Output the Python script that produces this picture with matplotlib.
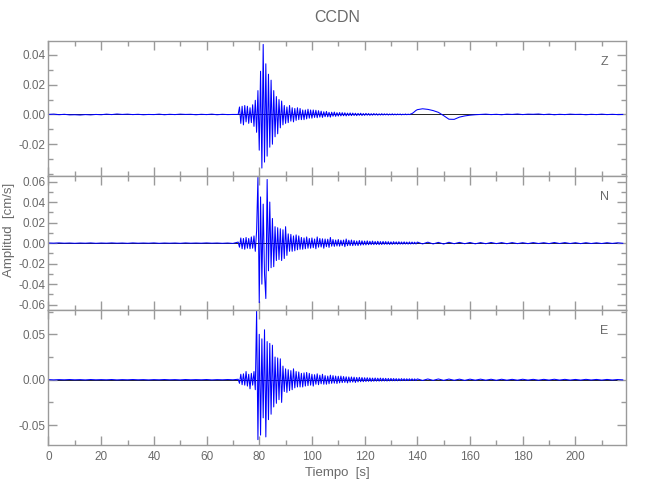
import numpy as np
import matplotlib
matplotlib.use("Agg")
import matplotlib.pyplot as plt
from matplotlib.ticker import FixedLocator, FormatStrFormatter

plt.rcParams['font.family'] = ['Liberation Sans', 'DejaVu Sans']

title = "CCDN"
components = ["Z", "N", "E"]
xlabel = "Tiempo  [s]"
ylabel = "Amplitud  [cm/s]"

# Trace samples, in units of 1e-4 cm/s.
# Segments: pre-event (0-70 s, every 2 s), main arrivals (72-99.5 s, every 0.5 s),
# coda (100-139.5 s, every 0.5 s), late part (140-218 s, every 2 s).
z_pre = [0, 2, -2, 1, -3, -2, -4, -1, -3, 0, -2, 2, -1, 3, 0, 2, -1, 1, -2, 0, -1, 2, -2, 1,
         -1, 2, 0, 1, -2, 1, -1, 2, -2, 1, -1, 0]
z_act = [0, 50, -60, 55, -70, 60, -50, 55, -60, 45, -55, 65, -80, 95, -120, 160, -240, 290,
         -360, 470, -320, 340, -280, 270, -220, 230, -200, 160, -150, 120, -130, 100, -90, 90,
         -70, 60, -60, 50, -55, 60, -45, 45, -50, 40, -40, 45, -35, 40, -35, 30, -35, 30, -30,
         35, -25, 30]
z_coda = [-25, 30, -20, 28, -22, 25, -18, 22, -20, 18,
          -15, 20, -16, 14, -18, 15, -12, 16, -13, 12,
          -11, 13, -10, 12, -9, 11, -10, 9, -8, 10,
          -8, 9, -7, 8, -8, 7, -6, 8, -7, 6,
          -6, 7, -5, 6, -6, 5, -5, 6, -4, 5,
          -5, 4, -4, 5, -4, 4, -3, 4, -4, 3,
          -3, 4, -3, 3, -3, 3, -2, 3, -3, 2,
          -2, 3, -2, 2, -1, 3, 6, 12, 20, 27]
z_late = [32, 38, 34, 26, 14, -8, -32, -33, -18, -10, -5, -2, 0, 2, -1, 1, -2, 2, 0, 3, -1, 2,
          1, 3, -1, 2, -2, 1, -1, 2, 0, 1, -2, 1, -1, 2, -1, 1, -1, 0]

n_pre = [1, -1, 2, -1, 1, -2, 1, -1, 2, -2, 1, -1, 2, -1, 1, -2, 2, -1, 1, -1, 2, -2, 1, -1,
         1, -2, 2, -1, 1, -1, 2, -1, 1, -2, 1, -3]
n_act = [10, -40, 50, -55, 45, -60, 55, -50, 45, -55, 60, -50, 70, -80, 120, 640, -580, 450,
         -400, 380, -300, -540, 620, -270, 400, -240, 240, -230, 160, -170, 150, -160, 140,
         -170, 130, -150, 160, -120, 90, -80, 85, -80, 70, -75, 80, -65, 70, -60, 55, -60, 50,
         -55, 60, -50, 45, -50]
n_coda = [50, -45, 40, -55, 60, -40, 45, -38, 42, -50,
          40, -35, 38, -42, 55, -30, 35, -32, 30, -28,
          35, -30, 28, -25, 30, -35, 40, -25, 28, -24,
          30, -25, 25, -22, 20, -24, 25, -20, 22, -18,
          20, -18, 22, -16, 18, -15, 20, -15, 16, -14,
          18, -15, 15, -14, 16, -12, 15, -12, 14, -13,
          12, -12, 14, -10, 12, -11, 13, -10, 11, -10,
          12, -9, 10, -10, 11, -9, 10, -8, 9, -9]
n_late = [10, -8, 9, -8, 7, -9, 8, -6, 7, -6, 6, -7, 5, -6, 6, -5, 5, -6, 5, -5, 4, -5, 5, -4,
          4, -5, 6, -4, 5, -4, 4, -5, 4, -4, 3, -4, 4, -3, 3, -2]

e_pre = [1, -2, 1, -1, 2, -1, 1, -2, 2, -1, 1, -1, 2, -2, 1, -1, 2, -1, 1, -2, 1, -1, 2, -1,
         1, -2, 2, -1, 1, -1, 2, -2, 1, -1, 2, -1]
e_act = [5, -40, 60, -55, 65, -60, 90, -70, 60, -100, 70, -60, 90, -110, 760, -660, 500, -610,
         450, -420, 550, -630, 420, -440, 400, -380, 380, -300, 250, -260, 240, -220, 230, -250,
         150, -130, 120, -140, 110, -120, 100, -110, 120, -90, 90, -80, 85, -80, 70, -80, 75,
         -70, 80, -65, 70, -60]
e_coda = [60, -70, 55, -50, 65, -55, 50, -45, 60, -50,
          45, -50, 40, -45, 50, -40, 45, -38, 40, -42,
          38, -35, 40, -32, 35, -30, 32, -35, 30, -28,
          30, -26, 28, -30, 25, -24, 26, -22, 24, -22,
          22, -20, 22, -18, 20, -19, 18, -17, 19, -16,
          17, -16, 18, -15, 16, -14, 15, -15, 14, -13,
          14, -12, 13, -12, 12, -12, 11, -11, 12, -10,
          11, -10, 10, -10, 10, -9, 10, -9, 9, -9]
e_late = [9, -8, 8, -7, 8, -7, 7, -6, 6, -7, 6, -5, 6, -5, 5, -6, 5, -5, 4, -5, 5, -4, 4, -5,
          4, -4, 5, -4, 4, -4, 3, -4, 4, -3, 3, -4, 3, -3, 2, -2]

traces = [(z_pre, z_act, z_coda, z_late),
          (n_pre, n_act, n_coda, n_late),
          (e_pre, e_act, e_coda, e_late)]

ylims = [(-0.0411, 0.0493), (-0.0655, 0.0657), (-0.0719, 0.0764)]
ymajor = [[-0.02, 0.0, 0.02, 0.04],
          [-0.06, -0.04, -0.02, 0.0, 0.02, 0.04, 0.06],
          [-0.05, 0.0, 0.05]]
yminor = [[-0.04, -0.03, -0.01, 0.01, 0.03],
          [-0.05, -0.03, -0.01, 0.01, 0.03, 0.05],
          [-0.025, 0.025, 0.075]]
xmax = 219.2


def build(pre, act, coda, late):
    t = np.concatenate([0 + 2.0 * np.arange(len(pre)),
                        72 + 0.5 * np.arange(len(act)),
                        100 + 0.5 * np.arange(len(coda)),
                        140 + 2.0 * np.arange(len(late))])
    v = np.concatenate([pre, act, coda, late]) * 1e-4
    return t, v


gray = '#9a9a9a'
tcol = '#6a6a6a'
fig = plt.figure(figsize=(6.5, 5), dpi=100)
gs = fig.add_gridspec(3, 1, left=0.0746, right=0.963, top=0.918, bottom=0.11, hspace=0)
axes = [fig.add_subplot(gs[i]) for i in range(3)]

for i, ax in enumerate(axes):
    t, v = build(*traces[i])
    ax.axhline(0, color='black', lw=0.6, zorder=1)
    ax.plot(t, v, color='#0000ff', lw=0.75, zorder=2, clip_on=False)
    ax.set_xlim(0, xmax)
    ax.set_ylim(*ylims[i])
    ax.yaxis.set_major_locator(FixedLocator(ymajor[i]))
    ax.yaxis.set_minor_locator(FixedLocator(yminor[i]))
    ax.yaxis.set_major_formatter(FormatStrFormatter('%.2f'))
    ax.xaxis.set_major_locator(FixedLocator(np.arange(0, 220, 20)))
    ax.xaxis.set_minor_locator(FixedLocator(np.arange(10, 220, 20)))
    ax.tick_params(which='both', direction='in', top=True, right=True, color=gray,
                   labelcolor=tcol, labelsize=8.5, width=1)
    ax.tick_params(which='major', length=6.5, pad=2)
    ax.tick_params(which='minor', length=3.6)
    for s in ax.spines.values():
        s.set_color(gray)
        s.set_linewidth(1)
    if i < 2:
        ax.tick_params(labelbottom=False)
    ax.text(0.962, 0.845, components[i], transform=ax.transAxes, ha='center', va='center',
            color=tcol, fontsize=9)

axes[2].tick_params(axis='x', pad=4)
axes[2].set_xlabel(xlabel, color=tcol, fontsize=9.5, labelpad=3)
fig.text(0.5185, 0.964, title, ha='center', va='center', color=tcol, fontsize=11.5)
fig.text(0.014, 0.54, ylabel, ha='center', va='center', rotation=90, color=tcol, fontsize=9.5)

fig.savefig('out.png', dpi=100)
